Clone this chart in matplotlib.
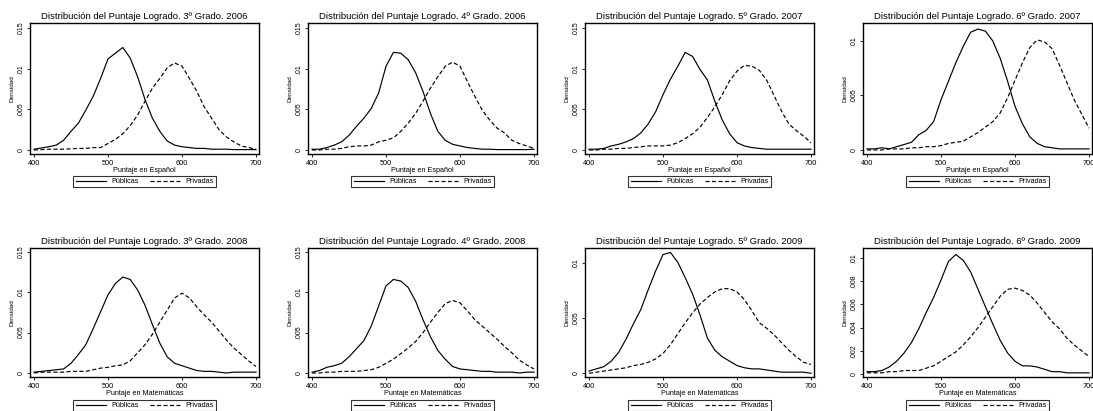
import matplotlib
matplotlib.use("Agg")
import matplotlib.pyplot as plt

plt.rcParams['font.family'] = ['Liberation Sans', 'DejaVu Sans']

W, H = 1093, 411
DPI = 100

x_scores = [400, 410, 420, 430, 440, 450, 460, 470, 480, 490, 500,
            510, 520, 530, 540, 550, 560, 570, 580, 590, 600,
            610, 620, 630, 640, 650, 660, 670, 680, 690, 700]

titles = [
    "Distribución del Puntaje Logrado. 3º Grado. 2006",
    "Distribución del Puntaje Logrado. 4º Grado. 2006",
    "Distribución del Puntaje Logrado. 5º Grado. 2007",
    "Distribución del Puntaje Logrado. 6º Grado. 2007",
    "Distribución del Puntaje Logrado. 3º Grado. 2008",
    "Distribución del Puntaje Logrado. 4º Grado. 2008",
    "Distribución del Puntaje Logrado. 5º Grado. 2009",
    "Distribución del Puntaje Logrado. 6º Grado. 2009",
]
xlabels = ["Puntaje en Español"] * 4 + ["Puntaje en Matemáticas"] * 4
ylabel = "Densidad"
legend_labels = ["Públicas", "Privadas"]

publicas_3_2006 = [0.0001, 0.00025, 0.0004, 0.0006, 0.0012, 0.0023, 0.0033, 0.0049, 0.0066, 0.0088, 0.0112,
                   0.0119, 0.0126, 0.0113, 0.0090, 0.0062, 0.0039, 0.0023, 0.0011, 0.0006, 0.0004,
                   0.0003, 0.0002, 0.0002, 0.0001, 0.0001, 0.0001, 0.00005, 0.00005, 0.00005, 0.00005]
privadas_3_2006 = [0.0, 0.00005, 0.0001, 0.0001, 0.0001, 0.00015, 0.0002, 0.0002, 0.0003, 0.0003, 0.0008,
                   0.0013, 0.0020, 0.0030, 0.0043, 0.0060, 0.0076, 0.0088, 0.0101, 0.0107, 0.0103,
                   0.0088, 0.0072, 0.0053, 0.0039, 0.0025, 0.0016, 0.0010, 0.0005, 0.0003, 0.0001]

publicas_4_2006 = [0.0001, 0.0001, 0.0003, 0.0006, 0.0010, 0.0018, 0.0029, 0.0039, 0.0051, 0.0070, 0.0103,
                   0.0120, 0.0119, 0.0111, 0.0095, 0.0072, 0.0045, 0.0023, 0.0012, 0.0007, 0.0005,
                   0.0003, 0.0002, 0.0001, 0.0001, 0.00005, 0.00005, 0.00005, 0.00005, 0.00005, 0.0001]
privadas_4_2006 = [0.0, 0.0, 0.0001, 0.0001, 0.0002, 0.0004, 0.0005, 0.0005, 0.0006, 0.0010, 0.0012,
                   0.0015, 0.0023, 0.0033, 0.0045, 0.0060, 0.0076, 0.0090, 0.0103, 0.0108, 0.0103,
                   0.0084, 0.0066, 0.0049, 0.0037, 0.0027, 0.0021, 0.0012, 0.0008, 0.0005, 0.0002]

publicas_5_2007 = [0.0001, 0.0001, 0.0002, 0.0005, 0.0007, 0.0010, 0.0014, 0.0021, 0.0032, 0.0047, 0.0068,
                   0.0087, 0.0103, 0.0120, 0.0115, 0.0099, 0.0086, 0.0060, 0.0037, 0.0020, 0.0009,
                   0.0005, 0.0003, 0.0002, 0.0001, 0.0001, 0.0001, 0.0001, 0.0001, 0.0001, 0.0001]
privadas_5_2007 = [0.0, 0.0, 0.0001, 0.0001, 0.0002, 0.0002, 0.0003, 0.0004, 0.0005, 0.0005, 0.0005,
                   0.0006, 0.0009, 0.0014, 0.0020, 0.0028, 0.0040, 0.0053, 0.0068, 0.0085, 0.0097,
                   0.0104, 0.0103, 0.0098, 0.0086, 0.0067, 0.0048, 0.0032, 0.0024, 0.0017, 0.0009]

publicas_6_2007 = [0.0001, 0.0001, 0.0002, 0.0001, 0.0003, 0.0005, 0.0007, 0.0014, 0.0018, 0.0026, 0.0046,
                   0.0063, 0.0080, 0.0095, 0.0108, 0.0111, 0.0109, 0.0100, 0.0084, 0.0063, 0.0040,
                   0.0024, 0.0012, 0.0006, 0.0003, 0.0002, 0.0001, 0.0001, 0.0001, 0.0001, 0.0001]
privadas_6_2007 = [0.0, 0.0, 0.0, 0.0001, 0.0001, 0.0001, 0.0002, 0.0002, 0.0003, 0.0003, 0.0004,
                   0.0006, 0.0007, 0.0008, 0.0012, 0.0016, 0.0021, 0.0026, 0.0034, 0.0048, 0.0064,
                   0.0080, 0.0094, 0.0101, 0.0099, 0.0093, 0.0078, 0.0062, 0.0046, 0.0033, 0.0020]

publicas_3_2008 = [0.0001, 0.0002, 0.0003, 0.0004, 0.0005, 0.0012, 0.0023, 0.0035, 0.0055, 0.0076, 0.0097,
                   0.0111, 0.0119, 0.0116, 0.0103, 0.0084, 0.0060, 0.0037, 0.0020, 0.0012, 0.0009,
                   0.0006, 0.0003, 0.0002, 0.0002, 0.0001, 0.0000, 0.0001, 0.0001, 0.0001, 0.0001]
privadas_3_2008 = [0.0, 0.0001, 0.0001, 0.0001, 0.0001, 0.0002, 0.0002, 0.0002, 0.0004, 0.0006, 0.0007,
                   0.0009, 0.0010, 0.0015, 0.0025, 0.0035, 0.0048, 0.0063, 0.0078, 0.0093, 0.0099,
                   0.0093, 0.0082, 0.0072, 0.0063, 0.0052, 0.0041, 0.0031, 0.0023, 0.0015, 0.0008]

publicas_4_2008 = [0.0001, 0.0003, 0.0007, 0.0009, 0.0012, 0.0020, 0.0030, 0.0040, 0.0058, 0.0083, 0.0108,
                   0.0116, 0.0114, 0.0106, 0.0089, 0.0066, 0.0045, 0.0028, 0.0017, 0.0008, 0.0005,
                   0.0004, 0.0003, 0.0002, 0.0002, 0.0001, 0.0001, 0.0001, 0.0000, 0.0001, 0.0001]
privadas_4_2008 = [0.0, 0.0, 0.0001, 0.0001, 0.0002, 0.0002, 0.0002, 0.0003, 0.0004, 0.0007, 0.0012,
                   0.0017, 0.0024, 0.0031, 0.0039, 0.0050, 0.0063, 0.0075, 0.0086, 0.0090, 0.0087,
                   0.0077, 0.0066, 0.0058, 0.0050, 0.0042, 0.0033, 0.0025, 0.0016, 0.0010, 0.0005]

publicas_5_2009 = [0.0002, 0.0004, 0.0006, 0.0011, 0.0019, 0.0031, 0.0045, 0.0058, 0.0076, 0.0093, 0.0108,
                   0.0110, 0.0101, 0.0087, 0.0072, 0.0053, 0.0032, 0.0021, 0.0015, 0.0011, 0.0007,
                   0.0005, 0.0004, 0.0004, 0.0003, 0.0002, 0.0001, 0.0001, 0.0001, 0.0001, 0.0000]
privadas_5_2009 = [0.0, 0.0001, 0.0002, 0.0003, 0.0004, 0.0005, 0.0007, 0.0008, 0.0010, 0.0013, 0.0018,
                   0.0026, 0.0036, 0.0046, 0.0055, 0.0063, 0.0069, 0.0074, 0.0077, 0.0077, 0.0074,
                   0.0067, 0.0057, 0.0046, 0.0041, 0.0035, 0.0028, 0.0021, 0.0015, 0.0010, 0.0008]

publicas_6_2009 = [0.0002, 0.0002, 0.0003, 0.0006, 0.0011, 0.0018, 0.0027, 0.0039, 0.0053, 0.0066, 0.0081,
                   0.0097, 0.0103, 0.0098, 0.0088, 0.0073, 0.0058, 0.0043, 0.0029, 0.0018, 0.0011,
                   0.0007, 0.0007, 0.0006, 0.0004, 0.0002, 0.0002, 0.0001, 0.0001, 0.0001, 0.0001]
privadas_6_2009 = [0.0001, 0.0001, 0.0001, 0.0002, 0.0002, 0.0003, 0.0003, 0.0003, 0.0005, 0.0007, 0.0011,
                   0.0015, 0.0019, 0.0025, 0.0032, 0.0040, 0.0049, 0.0058, 0.0067, 0.0073, 0.0074,
                   0.0072, 0.0068, 0.0061, 0.0053, 0.0045, 0.0039, 0.0031, 0.0025, 0.0020, 0.0015]

publicas = [publicas_3_2006, publicas_4_2006, publicas_5_2007, publicas_6_2007,
            publicas_3_2008, publicas_4_2008, publicas_5_2009, publicas_6_2009]
privadas = [privadas_3_2006, privadas_4_2006, privadas_5_2007, privadas_6_2007,
            privadas_3_2008, privadas_4_2008, privadas_5_2009, privadas_6_2009]

xticks = [400, 500, 600, 700]
yticks_list = [
    [0, 0.005, 0.01, 0.015], [0, 0.005, 0.01, 0.015], [0, 0.005, 0.01, 0.015], [0, 0.005, 0.01],
    [0, 0.005, 0.01, 0.015], [0, 0.005, 0.01, 0.015], [0, 0.005, 0.01],
    [0, 0.002, 0.004, 0.006, 0.008, 0.01],
]
ylims = [
    (-0.00049, 0.01561), (-0.00049, 0.01561), (-0.00049, 0.01561), (-0.00037, 0.01165),
    (-0.0005, 0.0155), (-0.0005, 0.0155), (-0.00034, 0.0114), (-0.00026, 0.01086),
]

def fmt(v):
    if v == 0:
        return "0"
    s = ("%g" % v)
    return s.lstrip("0")

col_left = [30, 308, 585, 863]
ax_w = 229
rows = [(23, 154), (248, 377)]

fig = plt.figure(figsize=(W / DPI, H / DPI), dpi=DPI)
fig.patch.set_facecolor("white")

for i in range(8):
    r, c = divmod(i, 4)
    top, bot = rows[r]
    left = col_left[c]
    ax = fig.add_axes([left / W, 1 - bot / H, ax_w / W, (bot - top) / H])
    ax.plot(x_scores, publicas[i], color="black", lw=0.85, ls="-", label=legend_labels[0])
    ax.plot(x_scores, privadas[i], color="black", lw=0.85, ls=(0, (3.5, 2)), label=legend_labels[1])
    ax.set_xlim(394.6, 704)
    ax.set_ylim(*ylims[i])
    ax.set_xticks(xticks)
    ax.set_xticklabels([str(t) for t in xticks], fontsize=5.3)
    ax.set_yticks(yticks_list[i])
    ax.set_yticklabels([fmt(t) for t in yticks_list[i]], fontsize=5, rotation=90, va="center")
    ax.tick_params(direction="out", length=2.5, width=0.6, pad=1.5, colors="black")
    for sp in ax.spines.values():
        sp.set_linewidth(1.0)
        sp.set_color("black")
    ax.set_title(titles[i], fontsize=6.8, pad=3)
    ax.set_xlabel(xlabels[i], fontsize=5.2, labelpad=0.5)
    ax.set_ylabel(ylabel, fontsize=4.6, labelpad=2)
    h_ax = bot - top
    leg = ax.legend(loc="upper center", bbox_to_anchor=(0.5, -(22 if r == 0 else 23) / h_ax),
                    ncol=2, fontsize=5.2, frameon=True, fancybox=False, edgecolor="black",
                    handlelength=4.2, handletextpad=0.7, columnspacing=1.6,
                    borderpad=0.3, borderaxespad=0)
    leg.get_frame().set_linewidth(0.8)

fig.savefig("out.png", dpi=DPI, facecolor="white")
